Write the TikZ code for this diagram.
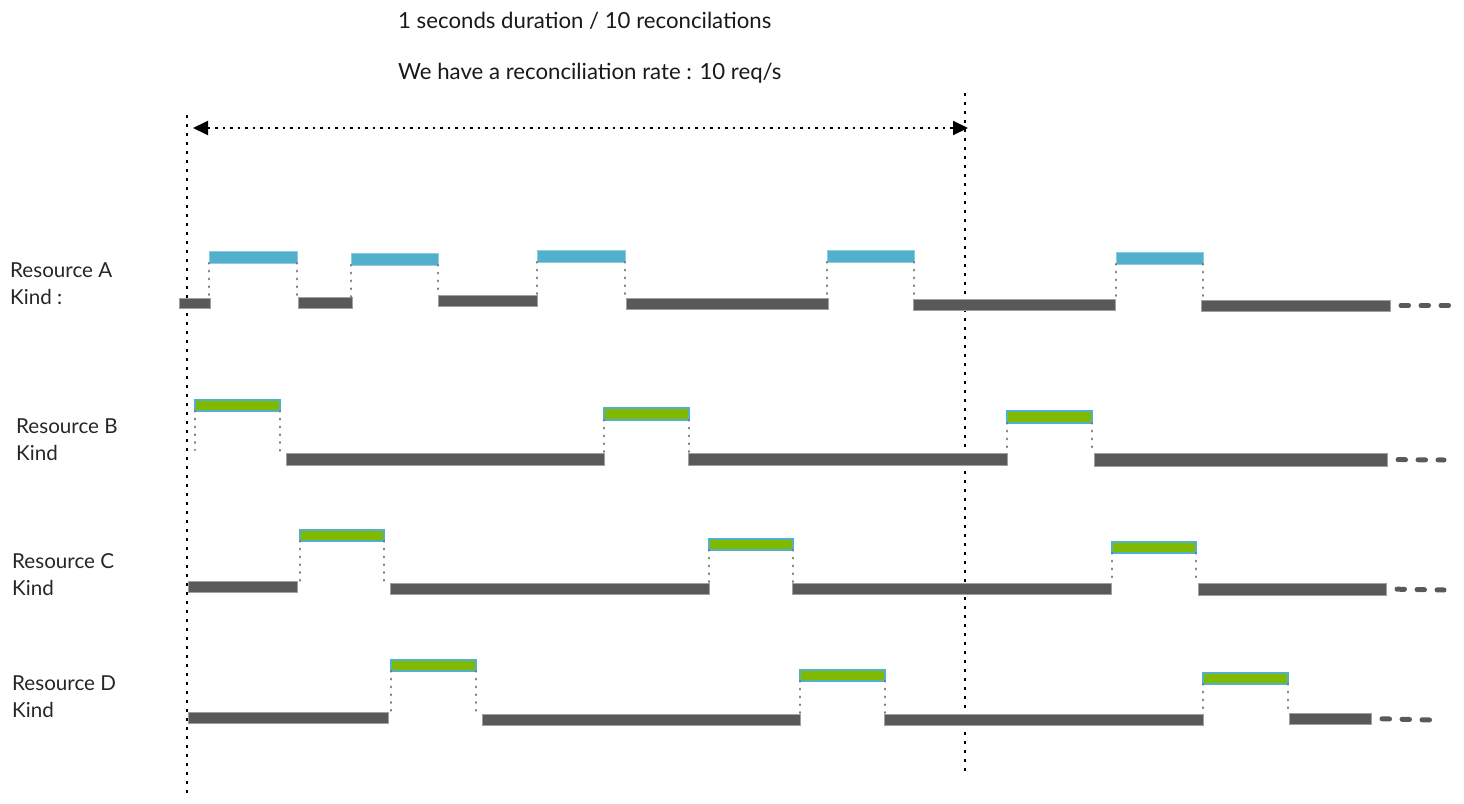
\documentclass[tikz,border=0pt]{standalone}
\usepackage{fontspec}
\setmainfont{Lato}
\usetikzlibrary{arrows.meta}
\definecolor{darkbar}{HTML}{595959}
\definecolor{darkedge}{HTML}{A0A0A0}
\definecolor{bluebar}{HTML}{52B0CD}
\definecolor{blueedge}{HTML}{8ACDE2}
\definecolor{greenbar}{HTML}{80BA00}
\definecolor{connc}{HTML}{7A7A7A}
\newcommand\mkbar[6]{\node[#2, minimum width={#5-#3}, minimum height={#6-#4}] (#1) at ({(#3+#5)/2},{(#4+#6)/2}) {};}
\begin{document}
\begin{tikzpicture}[x=1pt,y=-1pt,
  barbase/.style={rectangle, inner sep=0pt, outer sep=0pt},
  dbar/.style={barbase, fill=darkbar, draw=darkedge, line width=1pt},
  bbar/.style={barbase, fill=bluebar, draw=blueedge, line width=0.8pt},
  gbar/.style={barbase, fill=greenbar, draw=bluebar, line width=1.6pt},
  conn/.style={draw=connc, line width=2.3pt, line cap=round, dash pattern=on 0.6pt off 7.2pt},
  tail/.style={draw=darkbar, line width=5pt, line cap=round, dash pattern=on 7.5pt off 12.5pt, shorten <=11pt},
  guide/.style={draw=black, line width=2pt, dash pattern=on 2.5pt off 6.5pt},
  lbl/.style={anchor=base west, inner sep=0pt, font=\fontsize{20.6}{24}\selectfont, text=black!85},
  toptxt/.style={anchor=base west, inner sep=0pt, font=\fontsize{22.2}{26}\selectfont, text=black!90}
]
\useasboundingbox (0,0) rectangle (1464,803);

% top texts
\node[toptxt] (t1) at (398,28) {1 seconds duration / 10 reconcilations};
\node[toptxt] (t2) at (398,79) {We have a reconciliation rate : 10 req/s};

% guide lines
\coordinate (g1t) at (187,115);
\coordinate (g1b) at (187,795);
\coordinate (g2t) at (965,93);
\coordinate (g2b) at (965,772);
\draw[guide] (g1t) -- (g1b);
\draw[guide] (g2t) -- (g2b);
\coordinate (arl) at (193,128);
\coordinate (arr) at (968,128);
\draw[guide, dash pattern=on 2.5pt off 5pt, {Triangle[length=15pt,width=14pt]}-{Triangle[length=15pt,width=14pt]}] (arl) -- (arr);

% labels
\node[lbl] (la1) at (10,277) {Resource A};
\node[lbl] (la2) at (10,304) {Kind :};
\node[lbl] (lb1) at (16,433) {Resource B};
\node[lbl] (lb2) at (16,460) {Kind};
\node[lbl] (lc1) at (12,568) {Resource C};
\node[lbl] (lc2) at (12,595) {Kind};
\node[lbl] (ld1) at (12,690) {Resource D};
\node[lbl] (ld2) at (12,717) {Kind};

% Row A
\mkbar{a0}{dbar}{179}{298}{210}{308}
\mkbar{a1}{bbar}{209}{251}{297}{263}
\mkbar{a2}{dbar}{298}{297}{352}{308}
\mkbar{a3}{bbar}{351}{253}{438}{265}
\mkbar{a4}{dbar}{438}{295}{537}{306}
\mkbar{a5}{bbar}{537}{250}{625}{262}
\mkbar{a6}{dbar}{626}{298}{828}{309}
\mkbar{a7}{bbar}{827}{250}{914}{262}
\mkbar{a8}{dbar}{913}{299}{1115}{310}
\mkbar{a9}{bbar}{1116}{252}{1203}{264}
\mkbar{a10}{dbar}{1201}{300}{1390}{311}
\coordinate (aend) at (1450,305.5);
\draw[tail] (a10.east) -- (aend);
\draw[conn] (a1.south west) -- (a1.south west |- a0.north);
\draw[conn] (a1.south east) -- (a1.south east |- a2.north);
\draw[conn] (a3.south west) -- (a3.south west |- a2.north);
\draw[conn] (a3.south east) -- (a3.south east |- a4.north);
\draw[conn] (a5.south west) -- (a5.south west |- a4.north);
\draw[conn] (a5.south east) -- (a5.south east |- a6.north);
\draw[conn] (a7.south west) -- (a7.south west |- a6.north);
\draw[conn] (a7.south east) -- (a7.south east |- a8.north);
\draw[conn] (a9.south west) -- (a9.south west |- a8.north);
\draw[conn] (a9.south east) -- (a9.south east |- a10.north);

% Row B
\mkbar{b0}{gbar}{195}{400}{280}{411}
\mkbar{b1}{dbar}{286}{453}{604}{465}
\mkbar{b2}{gbar}{604}{408}{689}{420}
\mkbar{b3}{dbar}{688}{453}{1007}{465}
\mkbar{b4}{gbar}{1007}{411}{1092}{423}
\mkbar{b5}{dbar}{1094}{453}{1387}{466}
\coordinate (bstart) at (195,450);
\coordinate (bend) at (1444,460);
\draw[tail] (b5.east) -- (bend);
\draw[conn] (b0.south west) -- (bstart);
\draw[conn] (b0.south east) -- (b0.south east |- b1.north);
\draw[conn] (b2.south west) -- (b2.south west |- b1.north);
\draw[conn] (b2.south east) -- (b2.south east |- b3.north);
\draw[conn] (b4.south west) -- (b4.south west |- b3.north);
\draw[conn] (b4.south east) -- (b4.south east |- b5.north);

% Row C
\mkbar{c0}{dbar}{188}{581}{297}{592}
\mkbar{c1}{gbar}{300}{530}{384}{541}
\mkbar{c2}{dbar}{390}{583}{709}{594}
\mkbar{c3}{gbar}{709}{539}{793}{550}
\mkbar{c4}{dbar}{792}{583}{1111}{594}
\mkbar{c5}{gbar}{1112}{542}{1196}{553}
\mkbar{c6}{dbar}{1198}{583}{1386}{595}
\coordinate (cend) at (1444,590);
\draw[tail] (c6.east) -- (cend);
\draw[conn] (c1.south west) -- (c1.south west |- c0.north);
\draw[conn] (c1.south east) -- (c1.south east |- c2.north);
\draw[conn] (c3.south west) -- (c3.south west |- c2.north);
\draw[conn] (c3.south east) -- (c3.south east |- c4.north);
\draw[conn] (c5.south west) -- (c5.south west |- c4.north);
\draw[conn] (c5.south east) -- (c5.south east |- c6.north);

% Row D
\mkbar{d0}{dbar}{188}{712}{388}{723}
\mkbar{d1}{gbar}{391}{660}{476}{671}
\mkbar{d2}{dbar}{482}{714}{800}{725}
\mkbar{d3}{gbar}{800}{670}{885}{681}
\mkbar{d4}{dbar}{884}{714}{1203}{725}
\mkbar{d5}{gbar}{1203}{673}{1288}{684}
\mkbar{d6}{dbar}{1289}{713}{1371}{724}
\coordinate (dend) at (1430,720);
\draw[tail] (d6.east) -- (dend);
\draw[conn] (d1.south west) -- (d1.south west |- d0.north);
\draw[conn] (d1.south east) -- (d1.south east |- d2.north);
\draw[conn] (d3.south west) -- (d3.south west |- d2.north);
\draw[conn] (d3.south east) -- (d3.south east |- d4.north);
\draw[conn] (d5.south west) -- (d5.south west |- d4.north);
\draw[conn] (d5.south east) -- (d5.south east |- d6.north);
\end{tikzpicture}
\end{document}
